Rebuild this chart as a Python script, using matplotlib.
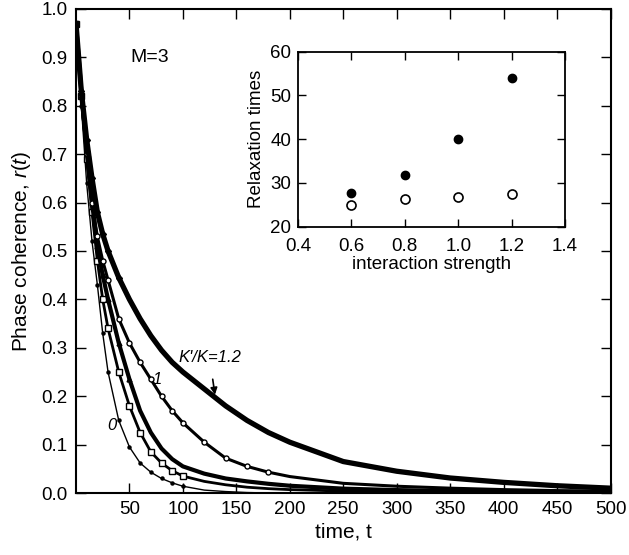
import numpy as np
import matplotlib
matplotlib.use('Agg')
import matplotlib.pyplot as plt

plt.rcParams['font.family'] = ['Liberation Sans', 'DejaVu Sans']
plt.rcParams['mathtext.fontset'] = 'custom'
plt.rcParams['mathtext.rm'] = 'Liberation Sans'
plt.rcParams['mathtext.it'] = 'Liberation Sans:italic'

# time grid
t = [0, 5, 10, 15, 20, 25, 30, 40, 50, 60, 70, 80, 90, 100, 120, 140, 160,
     180, 200, 250, 300, 350, 400, 450, 500]

# phase coherence r(t) for each K'/K
r_0 = [0.97, 0.80, 0.64, 0.52, 0.43, 0.33, 0.25, 0.15, 0.095, 0.062, 0.043, 0.030,
       0.021, 0.014, 0.006, 0.003, 0.001, 0.0, 0.0, 0.0, 0.0, 0.0, 0.0, 0.0, 0.0]
r_06 = [0.97, 0.82, 0.69, 0.58, 0.48, 0.40, 0.34, 0.25, 0.18, 0.125, 0.085, 0.062,
        0.046, 0.035, 0.024, 0.017, 0.012, 0.009, 0.007, 0.004, 0.002, 0.001, 0.0, 0.0, 0.0]
r_08 = [0.97, 0.83, 0.71, 0.60, 0.51, 0.45, 0.40, 0.31, 0.235, 0.17, 0.125, 0.092,
        0.070, 0.055, 0.040, 0.030, 0.024, 0.019, 0.015, 0.009, 0.006, 0.004, 0.003, 0.002, 0.001]
r_10 = [0.97, 0.82, 0.70, 0.60, 0.53, 0.48, 0.44, 0.36, 0.31, 0.27, 0.235, 0.20,
        0.17, 0.145, 0.105, 0.072, 0.055, 0.043, 0.034, 0.020, 0.014, 0.010, 0.007, 0.005, 0.004]
r_12 = [0.97, 0.83, 0.73, 0.65, 0.58, 0.535, 0.50, 0.445, 0.40, 0.36, 0.325, 0.295,
        0.27, 0.25, 0.215, 0.18, 0.15, 0.125, 0.105, 0.065, 0.045, 0.031, 0.022, 0.015, 0.010]

# inset: relaxation times vs interaction strength
strength = [0.6, 0.8, 1.0, 1.2]
relax_filled = [27.8, 31.9, 40.0, 54.1]
relax_open = [25.0, 26.3, 26.9, 27.5]

fig = plt.figure(figsize=(6.29, 5.55), dpi=100)
ax = fig.add_axes([0.1208, 0.1117, 0.8498, 0.8721])

ax.plot(t, r_0, color='k', lw=1.0, marker='o', ms=2.2, mfc='k', mec='k',
        markevery=slice(0, 14))
ax.plot(t, r_06, color='k', lw=2.0, marker='s', ms=4, mfc='white', mec='k',
        mew=1, markevery=slice(0, 14))
ax.plot(t, r_08, color='k', lw=3.0, marker='^', ms=3.5, mfc='k', mec='k',
        markevery=slice(0, 9))
ax.plot(t, r_10, color='k', lw=2.2, marker='o', ms=3.6, mfc='white', mec='k',
        mew=1, markevery=slice(0, 18))
ax.plot(t, r_12, color='k', lw=3.8, marker='D', ms=3, mfc='k', mec='k',
        markevery=slice(0, 8))

ax.set_xlim(0, 500)
ax.set_ylim(0, 1.0)
ax.set_xticks(np.arange(50, 501, 50))
ax.set_yticks(np.arange(0, 1.01, 0.1))
ax.set_yticklabels(['%.1f' % v for v in np.arange(0, 1.01, 0.1)])
ax.tick_params(direction='in', top=True, right=True, length=7, width=1,
               labelsize=13.5, pad=6)
for s in ax.spines.values():
    s.set_linewidth(1.5)
ax.set_xlabel('time, t', fontsize=15, labelpad=3)
ax.set_ylabel('Phase coherence, $r(t)$', fontsize=15, labelpad=6)

ax.text(69, 0.90, 'M=3', fontsize=14, ha='center', va='center')
ax.text(34, 0.14, '0', fontsize=12, style='italic', ha='center', va='center')
ax.text(76, 0.235, '1', fontsize=12, style='italic', ha='center', va='center')
ax.annotate("K'/K=1.2", xy=(130, 0.203), xytext=(125, 0.279), fontsize=12,
            style='italic', ha='center', va='center',
            arrowprops=dict(arrowstyle='-|>', color='k', lw=1.2,
                            mutation_scale=10, shrinkA=8, shrinkB=0))

ins = fig.add_axes([0.4738, 0.5915, 0.4245, 0.3153])
ins.plot(strength, relax_filled, 'o', color='k', ms=6)
ins.plot(strength, relax_open, 'o', mfc='white', mec='k', mew=1.2, ms=6.5)
ins.set_xlim(0.4, 1.4)
ins.set_ylim(20, 60)
ins.set_xticks([0.4, 0.6, 0.8, 1.0, 1.2, 1.4])
ins.set_yticks([20, 30, 40, 50, 60])
ins.tick_params(direction='in', top=True, right=True, length=6, width=1,
                labelsize=13.5)
ins.tick_params(axis='x', pad=8)
ins.tick_params(axis='y', pad=5)
for s in ins.spines.values():
    s.set_linewidth(1.3)
ins.set_xlabel('interaction strength', fontsize=13.5, labelpad=1)
ins.set_ylabel('Relaxation times', fontsize=13.5, labelpad=4)

fig.savefig('out.png', dpi=100)
